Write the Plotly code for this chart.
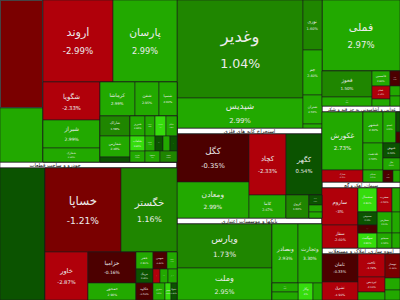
import math
import plotly.graph_objects as go

# ---------------- data (treemap nodes in drawing order) ----------------
ids = [
    "root",
    # column A : chemicals + cars
    "colA", "A1", "A1a", "n01", "n02",
    "A1b", "A1b1", "n03", "n04",
    "A1b2", "P", "n05", "n06", "n07",
    "Q", "Q1", "n08", "n09", "n10",
    "Q2", "Q2a", "n11", "n12", "n13",
    "Q2b", "R1", "n14", "n15", "n16", "n17",
    "R2", "n18", "n19", "n20", "n21", "n22",
    "R3", "n23", "n24", "n25",
    "hA",
    "A2", "n26", "A2b", "A2r1", "n27", "n28",
    "A2r2", "n29", "A2c1", "n30", "n31",
    "A2c2", "S1", "n32", "n33", "n34",
    "S2", "n35", "n36", "n37", "n38",
    "S3", "n39", "n40", "n41", "n42",
    # column B : petrochem, mining, banks
    "colB", "B1", "B1a", "n43", "n44",
    "B1b", "n45", "n46", "n47", "n48",
    "hB1",
    "B2", "B2a", "n49", "n50",
    "B2b", "n51", "n52",
    "B2c", "n53", "B2cr", "n54", "B2crc", "n55", "n56", "n57",
    "hB2",
    "B3", "B3a", "n58", "n59",
    "B3b", "B3b1", "n60", "n61",
    "B3b2", "B3b2c", "n62", "n63", "n64", "n65",
    # column C : metals, food, cement, real estate
    "colC", "n66",
    "C1", "C1a", "n67", "n68",
    "C1b", "n69", "n70", "n71",
    "C1c", "n72", "n73", "n74",
    "hC1",
    "C2", "C2a", "n75", "n76",
    "C2b", "C2r1", "n77", "n78", "C2r1c", "n79", "n80",
    "C2r2", "n81", "C2r2c", "n82", "n83",
    "C2r3", "n84", "n85", "n86",
    "hC2",
    "C3", "C3a", "n87", "n88",
    "C3b", "C3r1", "n89", "n90", "n91",
    "C3r2", "C3r2c", "n92", "n93", "n94", "n95",
    "C3r3", "n96", "n97", "n98",
    "hC3",
    "C4", "C4a", "n99", "n100",
    "C4b", "n101", "n102", "n103",
    "C4c", "n104", "n105", "n106",
]

parents = [
    "",
    "root", "colA", "A1", "A1a", "A1a",
    "A1", "A1b", "A1b1", "A1b1",
    "A1b", "A1b2", "P", "P", "P",
    "A1b2", "Q", "Q1", "Q1", "Q1",
    "Q", "Q2", "Q2a", "Q2a", "Q2a",
    "Q2", "Q2b", "R1", "R1", "R1", "R1",
    "Q2b", "R2", "R2", "R2", "R2", "R2",
    "Q2b", "R3", "R3", "R3",
    "colA",
    "colA", "A2", "A2", "A2b", "A2r1", "A2r1",
    "A2b", "A2r2", "A2r2", "A2c1", "A2c1",
    "A2r2", "A2c2", "S1", "S1", "S1",
    "A2c2", "S2", "S2", "S2", "S2",
    "A2c2", "S3", "S3", "S3", "S3",
    "root", "colB", "B1", "B1a", "B1a",
    "B1", "B1b", "B1b", "B1b", "B1b",
    "colB",
    "colB", "B2", "B2a", "B2a",
    "B2", "B2b", "B2b",
    "B2", "B2c", "B2c", "B2cr", "B2cr", "B2crc", "B2crc", "B2crc",
    "colB",
    "colB", "B3", "B3a", "B3a",
    "B3", "B3b", "B3b1", "B3b1",
    "B3b", "B3b2", "B3b2c", "B3b2c", "B3b2", "B3b2",
    "root", "colC",
    "colC", "C1", "C1a", "C1a",
    "C1", "C1b", "C1b", "C1b",
    "C1", "C1c", "C1c", "C1c",
    "colC",
    "colC", "C2", "C2a", "C2a",
    "C2", "C2b", "C2r1", "C2r1", "C2r1", "C2r1c", "C2r1c",
    "C2b", "C2r2", "C2r2", "C2r2c", "C2r2c",
    "C2b", "C2r3", "C2r3", "C2r3",
    "colC",
    "colC", "C3", "C3a", "C3a",
    "C3", "C3b", "C3r1", "C3r1", "C3r1",
    "C3b", "C3r2", "C3r2c", "C3r2c", "C3r2", "C3r2",
    "C3b", "C3r3", "C3r3", "C3r3",
    "colC",
    "colC", "C4", "C4a", "C4a",
    "C4", "C4b", "C4b", "C4b",
    "C4", "C4c", "C4c", "C4c",
]

labels = [
    "",
    "", "", "", "", "",
    "", "", "اروند", "پارسان",
    "", "", "شگویا", "شیراز", "شخارک",
    "", "", "کرماشا", "شفن", "شسپا",
    "", "", "شاراک", "شفارس", "",
    "", "", "شبریز", "شپاکسا", "شصدف", "شکام",
    "", "شلعاب", "شسینا", "شفا", "شرنگی", "شدوص",
    "", "شاروم", "شصفها", "شنفت",
    "خودرو و ساخت قطعات",
    "", "", "", "", "خساپا", "خگستر",
    "", "خاور", "", "خزامیا", "خمحور",
    "", "", "خفنر", "خبهمن", "خکمک",
    "", "خرینگ", "خمهر", "خلنت", "خچرخش",
    "", "خکاوه", "خشرق", "خنصیر", "خفولا",
    "", "", "", "وغدیر", "شپدیس",
    "", "نوری", "جم", "شتران", "",
    "استخراج کانه های فلزی",
    "", "", "کگل", "ومعادن",
    "", "کچاد", "کاما",
    "", "کگهر", "", "کروی", "", "کدما", "کمنگنز", "",
    "بانکها و موسسات اعتباری",
    "", "", "وپارس", "وملت",
    "", "", "وبصادر", "وتجارت",
    "", "", "وپست", "", "وکار", "",
    "", "فملی",
    "", "", "فخوز", "فسپا",
    "", "فاسمین", "فجام", "",
    "", "فاما", "", "",
    "غذایی و آشامیدنی به جز قند و شکر",
    "", "", "غکورش", "غمارگ",
    "", "", "غبشهر", "غمینو", "", "", "",
    "", "غدشت", "", "غنوش", "غگل",
    "", "غسالم", "غزر", "",
    "سیمان، آهک و گچ",
    "", "", "ساروم", "سفار",
    "", "", "سشمال", "سغرب", "",
    "", "", "سصوفی", "سکرما", "سفارس", "",
    "", "سهگمت", "سبجنو", "",
    "انبوه سازی، املاک و مستغلات",
    "", "", "ثامان", "ثشرق",
    "", "ثاخت", "ثپردیس", "",
    "", "ثبهساز", "", "",
]

# market-value weights (0 = grouping node)
values = [
    0,
    0, 0, 0, 4644, 2322,
    0, 0, 5740, 5248,
    0, 0, 2166, 1596, 798,
    0, 0, 1190, 816, 612,
    0, 0, 600, 630, 150,
    0, 0, 300, 200, 220, 220,
    0, 225, 150, 120, 105, 105,
    0, 165, 165, 187,
    1062,
    0, 5940, 0, 0, 6384, 4704,
    0, 2064, 0, 1488, 816,
    0, 0, 289, 238, 170,
    0, 238, 98, 112, 126,
    0, 289, 204, 102, 102,
    0, 0, 0, 12348, 3780,
    0, 950, 855, 551, 76,
    870,
    0, 0, 3456, 2592,
    0, 2257, 851,
    0, 2196, 0, 529, 0, 130, 91, 78,
    870,
    0, 0, 4180, 3040,
    0, 0, 1534, 1416,
    0, 0, 234, 208, 255, 153,
    0, 5538,
    0, 0, 1300, 450,
    0, 270, 234, 126,
    0, 150, 100, 100,
    468,
    0, 0, 2378, 492,
    0, 0, 620, 403, 0, 80, 44,
    0, 540, 0, 255, 204,
    0, 240, 120, 84,
    468,
    0, 0, 1332, 828,
    0, 0, 456, 360, 192,
    0, 0, 247, 152, 315, 168,
    0, 285, 225, 120,
    468,
    0, 0, 1008, 648,
    0, 621, 405, 216,
    0, 360, 180, 150,
]

# daily change in percent (None = group / sector header)
changes = [
    None,
    None, None, None, -1.0, 2.0,
    None, None, -2.99, 2.99,
    None, None, -2.33, 2.99, 2.5,
    None, None, 2.99, 2.95, 2.6,
    None, None, 1.58, 2.48, 0.3,
    None, None, 2.6, 2.5, 4.0, 2.6,
    None, 3.6, 2.4, 0.3, 2.2, 0.4,
    None, 2.5, 2.0, 1.8,
    None,
    None, 0.2, None, None, -1.21, 1.16,
    None, -2.87, None, -0.16, 2.9,
    None, None, 2.8, -0.4, 2.6,
    None, 0.3, -2.5, 2.5, 2.7,
    None, -0.5, 2.6, 3.6, 0.4,
    None, None, None, 1.04, 2.99,
    None, 1.6, 2.4, 2.5, 2.0,
    None,
    None, None, -0.35, 2.99,
    None, -2.33, 2.67,
    None, 0.54, None, 1.6, None, 0.4, 2.3, 2.0,
    None,
    None, None, 1.73, 2.95,
    None, None, 2.93, 3.3,
    None, None, 2.7, 2.5, 4.0, 2.4,
    None, 2.97,
    None, None, 1.5, 2.5,
    None, 2.6, -2.5, 2.5,
    None, -0.5, 2.5, 2.3,
    None,
    None, None, 2.73, -2.5,
    None, None, 2.6, 2.5, None, 0.3, -0.6,
    None, 2.5, None, 0.4, 2.4,
    None, 2.5, -0.6, 2.5,
    None,
    None, None, -3.0, -2.6,
    None, None, 3.8, -2.5, 2.4,
    None, None, 0.3, -0.5, 2.5, 2.2,
    None, 3.8, 2.5, 2.3,
    None,
    None, None, -0.33, -1.9,
    None, -1.79, -2.1, 2.5,
    None, -1.33, 2.5, 2.0,
]

assert len(ids) == len(parents) == len(labels) == len(values) == len(changes)


# ---------------- styling derived from the data ----------------
def cell_color(c):
    if c <= -1.5:
        return "#b0000a"
    if c <= -0.8:
        return "#7a0000"
    if c < 0:
        return "#4c0000"
    if c < 0.8:
        return "#0b5300"
    if c < 2.0:
        return "#1f8600"
    if c < 3.5:
        return "#22a900"
    return "#35dc0c"


def fmt_pct(c):
    if float(c).is_integer():
        return f"{int(c)}%"
    return f"{c:.2f}%"


texts, colors, sizes, fcolors, plabels = [], [], [], [], []
NBSP = "\u00a0"
for nid, lab, v, c in zip(ids, labels, values, changes):
    plabels.append(lab if lab else nid)
    if v == 0:  # grouping node
        texts.append("")
        colors.append("rgba(0,0,0,0)")
        sizes.append(8)
        fcolors.append("#ffffff")
    elif c is None:  # sector header bar
        t = lab
        if nid == "hA":
            t = lab + NBSP * 40
        texts.append(t)
        colors.append("#ffffff")
        sizes.append(7)
        fcolors.append("#111111")
    else:
        p = max(2.5, min(13, math.sqrt(v) / 8.8))
        lsz = p * 1.3
        if lab:
            texts.append(
                f"<span style='font-size:{lsz:.1f}px'>{lab}</span><br>"
                f"<span style='font-size:{p:.1f}px'>{fmt_pct(c)}</span>"
            )
        else:
            texts.append("")
        colors.append(cell_color(c))
        sizes.append(p * 1.6)
        fcolors.append("#ececec")

fig = go.Figure(
    go.Treemap(
        ids=ids,
        parents=parents,
        labels=plabels,
        values=values,
        text=texts,
        textinfo="text",
        branchvalues="remainder",
        sort=False,
        textposition="middle center",
        textfont=dict(family="DejaVu Sans", size=sizes, color=fcolors),
        marker=dict(
            colors=colors,
            line=dict(width=1, color="rgba(25,25,25,0.55)"),
            pad=dict(t=0, l=0, r=0, b=0),
            depthfade=False,
        ),
        tiling=dict(packing="slice-dice", pad=0),
        pathbar=dict(visible=False),
        hoverinfo="skip",
    )
)

fig.update_layout(
    width=400,
    height=300,
    margin=dict(l=0, r=0, t=0, b=0),
    paper_bgcolor="#ffffff",
    showlegend=False,
)

fig.write_html("out.html")
